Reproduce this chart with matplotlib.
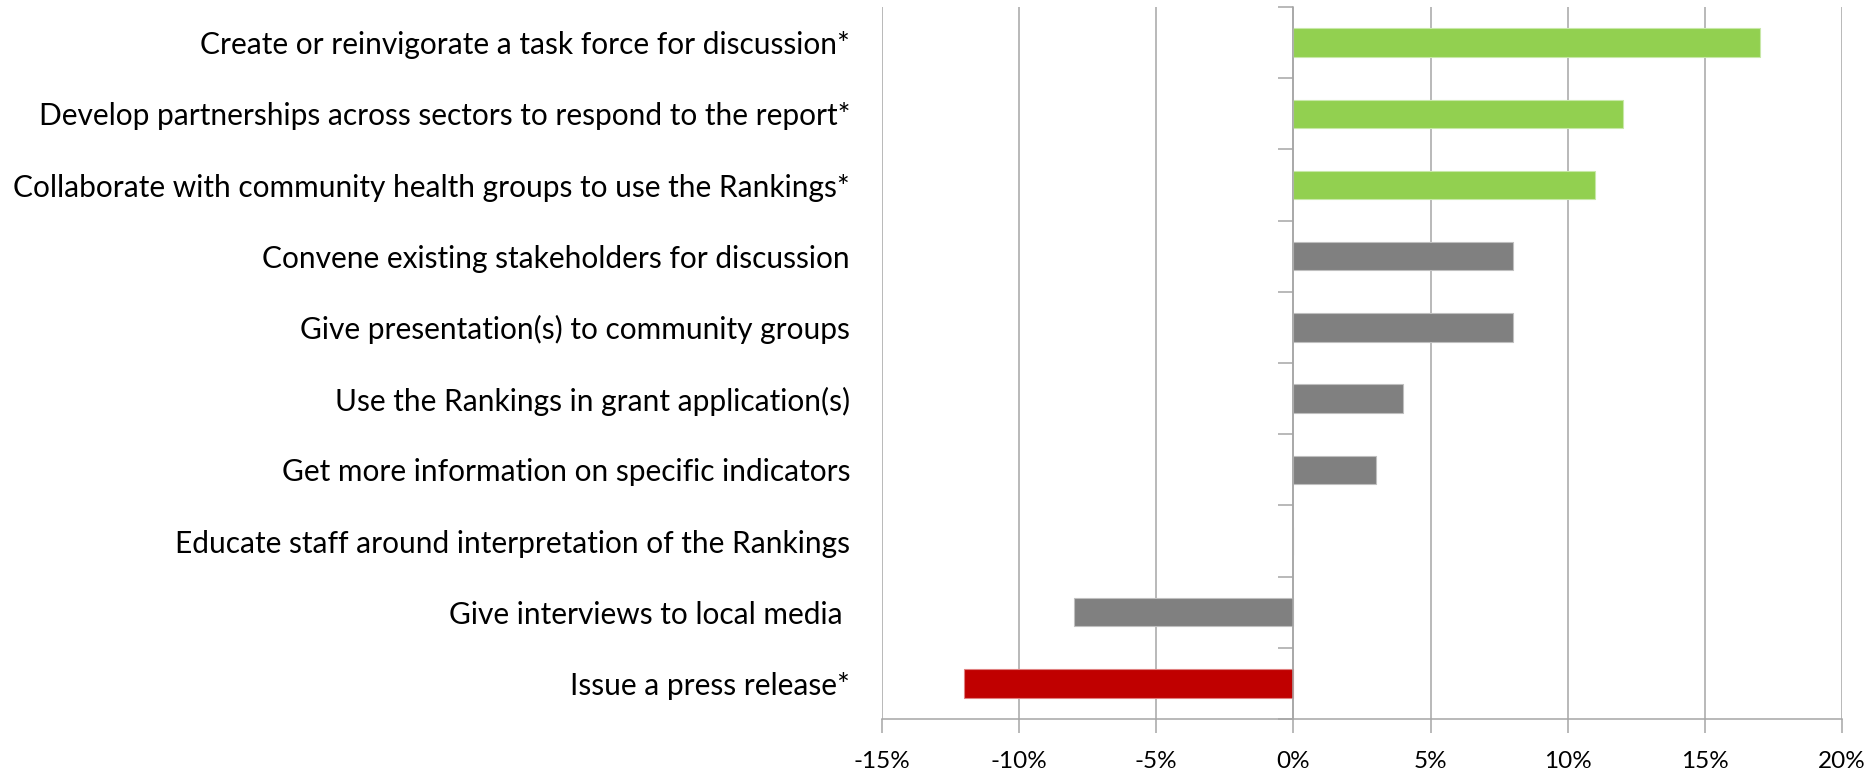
import matplotlib
matplotlib.use("Agg")
import matplotlib.pyplot as plt
from matplotlib.ticker import FuncFormatter

actions = [
    "Create or reinvigorate a task force for discussion*",
    "Develop partnerships across sectors to respond to the report*",
    "Collaborate with community health groups to use the Rankings*",
    "Convene existing stakeholders for discussion",
    "Give presentation(s) to community groups",
    "Use the Rankings in grant application(s)",
    "Get more information on specific indicators",
    "Educate staff around interpretation of the Rankings",
    "Give interviews to local media ",
    "Issue a press release*",
]
change_pct = [17, 12, 11, 8, 8, 4, 3, 0, -8, -12]
bar_colors = ["#92D050", "#92D050", "#92D050", "#808080", "#808080",
              "#808080", "#808080", "#808080", "#808080", "#C00000"]
edge_colors = ["#C8E8A8", "#C8E8A8", "#C8E8A8", "#BFBFBF", "#BFBFBF",
               "#BFBFBF", "#BFBFBF", "#BFBFBF", "#BFBFBF", "#E08080"]
x_ticks = [-15, -10, -5, 0, 5, 10, 15, 20]

plt.rcParams["font.family"] = ["Lato", "DejaVu Sans"]
plt.rcParams["axes.unicode_minus"] = False

fig = plt.figure(figsize=(18.69, 7.70), dpi=100)
ax = fig.add_axes([0.4719, 0.0662, 0.9856 - 0.4719, 0.9909 - 0.0662])

ypos = list(range(len(actions)))
ax.barh(ypos, change_pct, height=0.4, color=bar_colors,
        edgecolor=edge_colors, linewidth=0.8, zorder=3)

ax.set_xlim(x_ticks[0], x_ticks[-1])
ax.set_ylim(len(actions) - 0.5, -0.5)

grid_color = "#A6A6A6"
ax.set_xticks(x_ticks)
ax.xaxis.set_major_formatter(FuncFormatter(lambda v, p: f"{int(v)}%"))
ax.tick_params(axis="x", direction="out", length=10, width=1.1,
               color=grid_color, labelsize=17.5, pad=13)
ax.grid(axis="x", color=grid_color, linewidth=1.1, zorder=0)
ax.set_axisbelow(True)

ax.set_yticks(ypos)
ax.set_yticklabels(actions, fontsize=21.5)
ax.tick_params(axis="y", length=0, pad=23)

for side in ("left", "right", "top"):
    ax.spines[side].set_visible(False)
ax.spines["bottom"].set_color(grid_color)
ax.spines["bottom"].set_linewidth(1.1)

# category axis drawn at x = 0, with ticks between categories
zero_loc = (0 - x_ticks[0]) / (x_ticks[-1] - x_ticks[0])
sec = ax.secondary_yaxis(zero_loc)
sec.set_yticks([i - 0.5 for i in range(len(actions) + 1)])
sec.set_yticklabels([])
sec.tick_params(axis="y", direction="out", length=11, width=1.1,
                color=grid_color)
sec.spines["left"].set_color(grid_color)
sec.spines["left"].set_linewidth(1.1)
sec.set_zorder(4)

fig.savefig("out.png", dpi=100, facecolor="white")
